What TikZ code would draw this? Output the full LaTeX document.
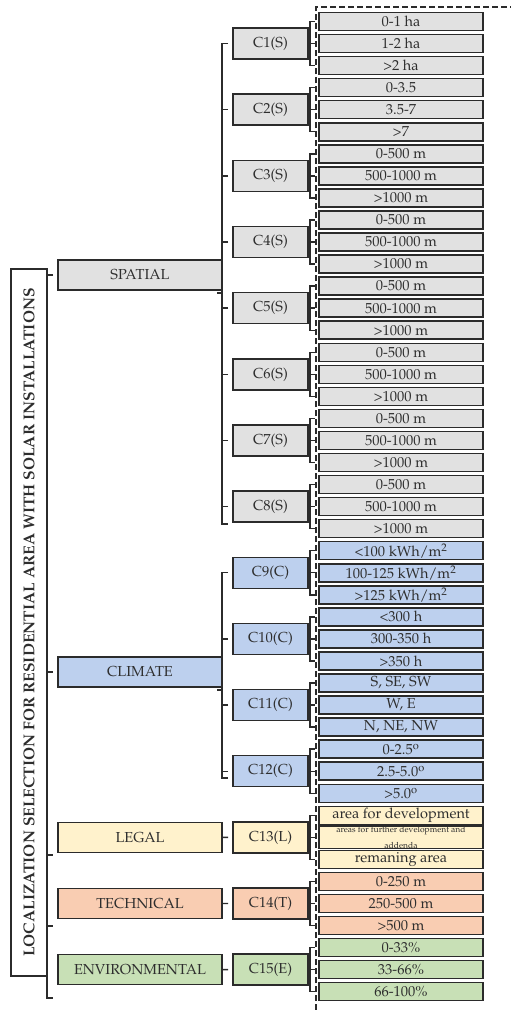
\documentclass[tikz,border=0pt]{standalone}
\usepackage[T1]{fontenc}
\usepackage{mathpazo}
\definecolor{bord}{HTML}{2B2B2B}
\definecolor{txt}{HTML}{2E2E2E}
\definecolor{gr}{HTML}{E1E1E1}
\definecolor{bl}{HTML}{BDD0EE}
\definecolor{ye}{HTML}{FFF2CC}
\definecolor{orn}{HTML}{F9CDB2}
\definecolor{gn}{HTML}{C8E0B6}
\newcommand{\tinyf}{\fontsize{8.5}{9.5}\selectfont}
\tikzset{
 box/.style={draw=bord, line width=1.5pt, inner sep=0pt, outer sep=0pt, text=txt, font=\fontsize{14.5}{16}\selectfont},
 opt/.style={box, minimum width=164pt, minimum height=18pt, align=center},
 crit/.style={box, minimum width=75pt, minimum height=31pt},
 cat/.style={box, minimum width=164pt, minimum height=30pt},
 link/.style={draw=bord, line width=1.4pt},
 sep/.style={draw=bord, line width=1.6pt, dash pattern=on 6pt off 3pt},
}
\begin{document}
\begin{tikzpicture}[x=1pt,y=-1pt]
\useasboundingbox (0,0) rectangle (511,1010);
\fill[white] (0,0) rectangle (511,1010);
% dashed separator
\coordinate (d0) at (316,1010);
\coordinate (d1) at (316,7);
\coordinate (d2) at (511,7);
\draw[sep] (d0) -- (d1) -- (d2);
% criteria and options
\foreach \k/\col/\lab/\a/\b/\c in {
 1/gr/C1(S)/0-1 ha/1-2 ha/{>2 ha},
 2/gr/C2(S)/0-3.5/3.5-7/{>7},
 3/gr/C3(S)/0-500 m/500-1000 m/{>1000 m},
 4/gr/C4(S)/0-500 m/500-1000 m/{>1000 m},
 5/gr/C5(S)/0-500 m/500-1000 m/{>1000 m},
 6/gr/C6(S)/0-500 m/500-1000 m/{>1000 m},
 7/gr/C7(S)/0-500 m/500-1000 m/{>1000 m},
 8/gr/C8(S)/0-500 m/500-1000 m/{>1000 m},
 9/bl/C9(C)/{<100 kWh/m\textsuperscript{2}}/{100-125 kWh/m\textsuperscript{2}}/{>125 kWh/m\textsuperscript{2}},
 10/bl/C10(C)/{<300 h}/300-350 h/{>350 h},
 11/bl/C11(C)/{S, SE, SW}/{W, E}/{N, NE, NW},
 12/bl/C12(C)/{0-2.5\textsuperscript{o}}/{2.5-5.0\textsuperscript{o}}/{>5.0\textsuperscript{o}},
 13/ye/C13(L)/area for development/{\tinyf areas for further development and\\\tinyf addenda}/remaning area,
 14/orn/C14(T)/0-250 m/250-500 m/{>500 m},
 15/gn/C15(E)/0-33\%/33-66\%/66-100\%}{
  \pgfmathsetmacro\yc{21.5+22.05*(3*\k-2)}
  \node[crit, fill=\col] (c\k) at (270.5,\yc) {\lab};
  \node[opt, fill=\col] (o\k-1) at (401,{\yc-22.05}) {\a};
  \node[opt, fill=\col] (o\k-2) at (401,\yc) {\b};
  \node[opt, fill=\col] (o\k-3) at (401,{\yc+22.05}) {\c};
  \draw[link] ([xshift=-4pt]o\k-1.west) -- ++(-5,0) |- ([xshift=-4pt]o\k-3.west);
  \draw[link] (c\k.east) -- ([xshift=-4pt]o\k-2.west);
}
% categories
\node[cat, fill=gr] (spatial) at (140,275.1) {SPATIAL};
\node[cat, fill=bl] (climate) at (140,672) {CLIMATE};
\node[cat, fill=ye] (legal) at (140,837.35) {LEGAL};
\node[cat, fill=orn] (technical) at (140,903.5) {TECHNICAL};
\node[cat, fill=gn] (environmental) at (140,969.65) {ENVIRONMENTAL};
% spatial bracket
\coordinate (sb) at (222,524);
\draw[link] ([xshift=-5pt]c1.west) -- ++(-6,0) -- (sb) -- ++(6,0);
\foreach \k in {2,...,8} \draw[link] ([xshift=-5pt]c\k.west) -- ++(-6,0);
\coordinate (st) at (217,293);
\draw[link] (st) -- ++(5,0);
% climate bracket
\coordinate (cb) at (222,778);
\draw[link] ([xshift=-5pt]c9.west) -- ++(-6,0) -- (cb) -- ++(6,0);
\foreach \k in {10,11,12} \draw[link] ([xshift=-5pt]c\k.west) -- ++(-6,0);
\coordinate (ct) at (217,690);
\draw[link] (ct) -- ++(5,0);
% single links
\draw[link] (legal.east) -- ([xshift=-5pt]c13.west);
\draw[link] (technical.east) -- ([xshift=-5pt]c14.west);
\draw[link] (environmental.east) -- ([xshift=-5pt]c15.west);
% main box
\node[box, fill=white, rotate=90, minimum width=707pt, minimum height=36pt, font=\bfseries\fontsize{15.7}{17}\selectfont] (main) at (29,622.5) {LOCALIZATION SELECTION FOR RESIDENTIAL AREA WITH SOLAR INSTALLATIONS};
% top-level bracket
\coordinate (lb) at (47,998);
\draw[link] ([xshift=-5pt]spatial.west) -- ++(-6,0) -- (lb) -- ++(6,0);
\coordinate (t2) at (47,672);
\coordinate (t3) at (47,855);
\coordinate (t4) at (47,926);
\draw[link] (t2) -- ++(6,0);
\draw[link] (t3) -- ++(6,0);
\draw[link] (t4) -- ++(6,0);
\end{tikzpicture}
\end{document}
